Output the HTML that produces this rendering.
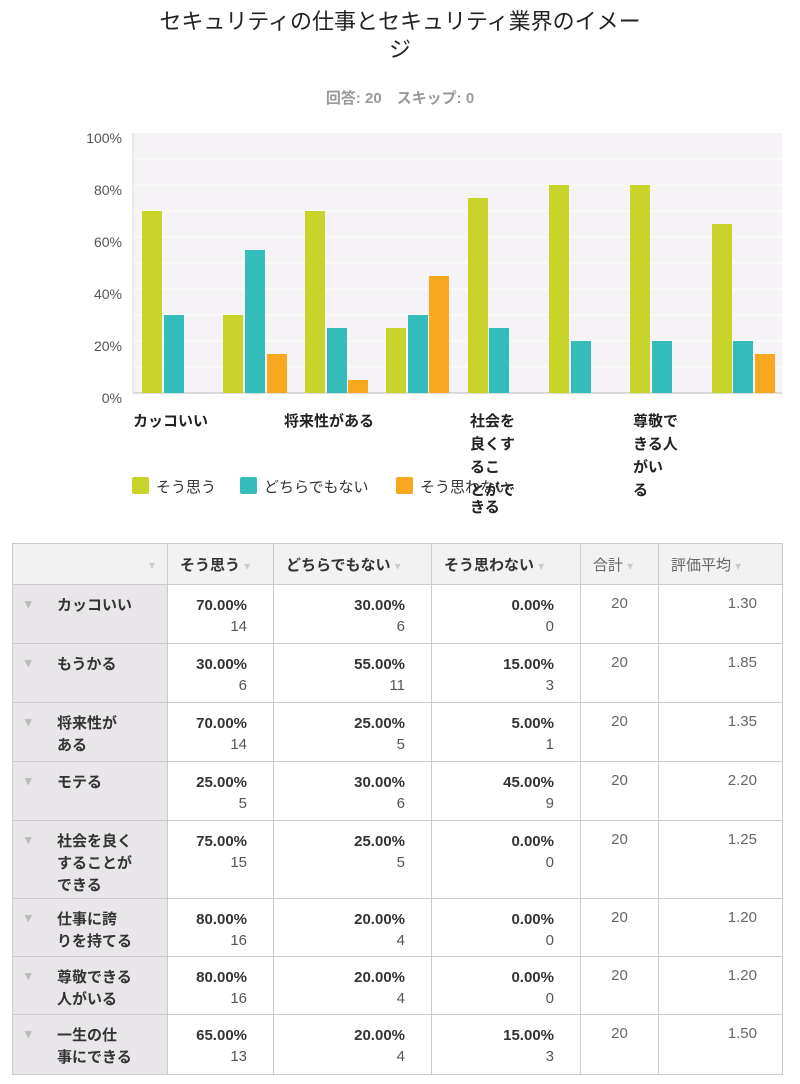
<!DOCTYPE html>
<html><head><meta charset="utf-8"><style>
body{margin:0;width:800px;height:1084px;background:#fff;font-family:"Liberation Sans","Noto Sans CJK JP",sans-serif;position:relative;overflow:hidden;color:#333}
.t{position:absolute;left:0;width:800px;text-align:center}
.a{position:absolute}
table{position:absolute;left:12px;top:543px;border-collapse:collapse;width:770px;font-size:15px;table-layout:fixed}
td,th{border:1px solid #ccc;vertical-align:top;padding:0;overflow:hidden;white-space:nowrap}
th{background:#f2f2f2;height:40px;font-weight:bold;text-align:left;padding-left:12px;vertical-align:middle}
th.g{font-weight:normal;color:#666}
td.l{background:#e8e6e9;font-weight:bold;padding:10px 0 0 44px;position:relative;line-height:22px}
td.l:before{content:"▾";position:absolute;left:12px;top:8px;color:#bbb;font-size:13px}
td.n{text-align:right;padding:10px 26px 0 0;font-weight:bold;line-height:21px}
td.n span{font-weight:normal;color:#555;display:block}
td.c{text-align:center;padding-top:10px;color:#666}
td.r{text-align:right;padding:10px 25px 0 0;color:#666}
.ar{color:#ccc;font-size:12px;font-weight:normal}
</style></head><body>
<div class="t" style="top:8px;font-size:22px;line-height:28px;color:#222">セキュリティの仕事とセキュリティ業界のイメー<br>ジ</div>
<div class="t" style="top:87px;font-size:15px;color:#999;font-weight:bold">回答: 20　スキップ: 0</div>
<svg class="a" style="left:0;top:0" width="800" height="530">
<rect x="133" y="133" width="649" height="260" fill="#f5f3f5"/>
<g stroke="#fff" stroke-width="1">
<line x1="133" x2="782" y1="159" y2="159"/><line x1="133" x2="782" y1="185" y2="185"/><line x1="133" x2="782" y1="211" y2="211"/><line x1="133" x2="782" y1="237" y2="237"/><line x1="133" x2="782" y1="263" y2="263"/><line x1="133" x2="782" y1="289" y2="289"/><line x1="133" x2="782" y1="315" y2="315"/><line x1="133" x2="782" y1="341" y2="341"/><line x1="133" x2="782" y1="367" y2="367"/>
</g>
<line x1="133" x2="133" y1="133" y2="393" stroke="#ddd"/>
<line x1="133" x2="782" y1="393" y2="393" stroke="#bbb"/>
<g font-size="14" fill="#555" text-anchor="end">
<text x="122" y="143">100%</text><text x="122" y="195">80%</text><text x="122" y="247">60%</text><text x="122" y="299">40%</text><text x="122" y="351">20%</text><text x="122" y="403">0%</text>
</g>
<g>
<rect x="142" y="211" width="20" height="182" fill="#c8d42a"/><rect x="164" y="315" width="20" height="78" fill="#35bdbb"/>
<rect x="223" y="315" width="20" height="78" fill="#c8d42a"/><rect x="245" y="250" width="20" height="143" fill="#35bdbb"/><rect x="267" y="354" width="20" height="39" fill="#f7a81f"/>
<rect x="305" y="211" width="20" height="182" fill="#c8d42a"/><rect x="327" y="328" width="20" height="65" fill="#35bdbb"/><rect x="348" y="380" width="20" height="13" fill="#f7a81f"/>
<rect x="386" y="328" width="20" height="65" fill="#c8d42a"/><rect x="408" y="315" width="20" height="78" fill="#35bdbb"/><rect x="429" y="276" width="20" height="117" fill="#f7a81f"/>
<rect x="468" y="198" width="20" height="195" fill="#c8d42a"/><rect x="489" y="328" width="20" height="65" fill="#35bdbb"/>
<rect x="549" y="185" width="20" height="208" fill="#c8d42a"/><rect x="571" y="341" width="20" height="52" fill="#35bdbb"/>
<rect x="630" y="185" width="20" height="208" fill="#c8d42a"/><rect x="652" y="341" width="20" height="52" fill="#35bdbb"/>
<rect x="712" y="224" width="20" height="169" fill="#c8d42a"/><rect x="733" y="341" width="20" height="52" fill="#35bdbb"/><rect x="755" y="354" width="20" height="39" fill="#f7a81f"/>
</g>
<g font-size="15" font-weight="bold" fill="#222">
<text x="133" y="426">カッコいい</text><text x="284" y="426">将来性がある</text>
<text x="470" y="426">社会を</text><text x="470" y="449">良くす</text><text x="470" y="472">るこ</text><text x="470" y="495">とがで</text><text x="470" y="512">きる</text>
<text x="633" y="426">尊敬で</text><text x="633" y="449">きる人</text><text x="633" y="472">がい</text><text x="633" y="495">る</text>
</g>
<rect x="132" y="477" width="17" height="17" rx="2" fill="#c8d42a"/><text x="156" y="492" font-size="15" fill="#333">そう思う</text>
<rect x="240" y="477" width="17" height="17" rx="2" fill="#35bdbb"/><text x="264" y="492" font-size="15" fill="#333">どちらでもない</text>
<rect x="396" y="477" width="17" height="17" rx="2" fill="#f7a81f"/><text x="420" y="492" font-size="15" fill="#333">そう思わない</text>
</svg>
<table>
<colgroup><col style="width:155px"><col style="width:106px"><col style="width:158px"><col style="width:149px"><col style="width:78px"><col style="width:124px"></colgroup>
<tr><th style="text-align:right;padding-right:12px"><span class="ar">▾</span></th><th>そう思う <span class="ar">▾</span></th><th>どちらでもない <span class="ar">▾</span></th><th>そう思わない <span class="ar">▾</span></th><th class="g">合計 <span class="ar">▾</span></th><th class="g">評価平均 <span class="ar">▾</span></th></tr>
<tr style="height:59px"><td class="l">カッコいい</td><td class="n">70.00%<span>14</span></td><td class="n">30.00%<span>6</span></td><td class="n">0.00%<span>0</span></td><td class="c">20</td><td class="r">1.30</td></tr>
<tr style="height:59px"><td class="l">もうかる</td><td class="n">30.00%<span>6</span></td><td class="n">55.00%<span>11</span></td><td class="n">15.00%<span>3</span></td><td class="c">20</td><td class="r">1.85</td></tr>
<tr style="height:59px"><td class="l">将来性が<br>ある</td><td class="n">70.00%<span>14</span></td><td class="n">25.00%<span>5</span></td><td class="n">5.00%<span>1</span></td><td class="c">20</td><td class="r">1.35</td></tr>
<tr style="height:59px"><td class="l">モテる</td><td class="n">25.00%<span>5</span></td><td class="n">30.00%<span>6</span></td><td class="n">45.00%<span>9</span></td><td class="c">20</td><td class="r">2.20</td></tr>
<tr style="height:78px"><td class="l">社会を良く<br>することが<br>できる</td><td class="n">75.00%<span>15</span></td><td class="n">25.00%<span>5</span></td><td class="n">0.00%<span>0</span></td><td class="c">20</td><td class="r">1.25</td></tr>
<tr style="height:58px"><td class="l">仕事に誇<br>りを持てる</td><td class="n">80.00%<span>16</span></td><td class="n">20.00%<span>4</span></td><td class="n">0.00%<span>0</span></td><td class="c">20</td><td class="r">1.20</td></tr>
<tr style="height:58px"><td class="l">尊敬できる<br>人がいる</td><td class="n">80.00%<span>16</span></td><td class="n">20.00%<span>4</span></td><td class="n">0.00%<span>0</span></td><td class="c">20</td><td class="r">1.20</td></tr>
<tr style="height:60px"><td class="l">一生の仕<br>事にできる</td><td class="n">65.00%<span>13</span></td><td class="n">20.00%<span>4</span></td><td class="n">15.00%<span>3</span></td><td class="c">20</td><td class="r">1.50</td></tr>
</table>
</body></html>
